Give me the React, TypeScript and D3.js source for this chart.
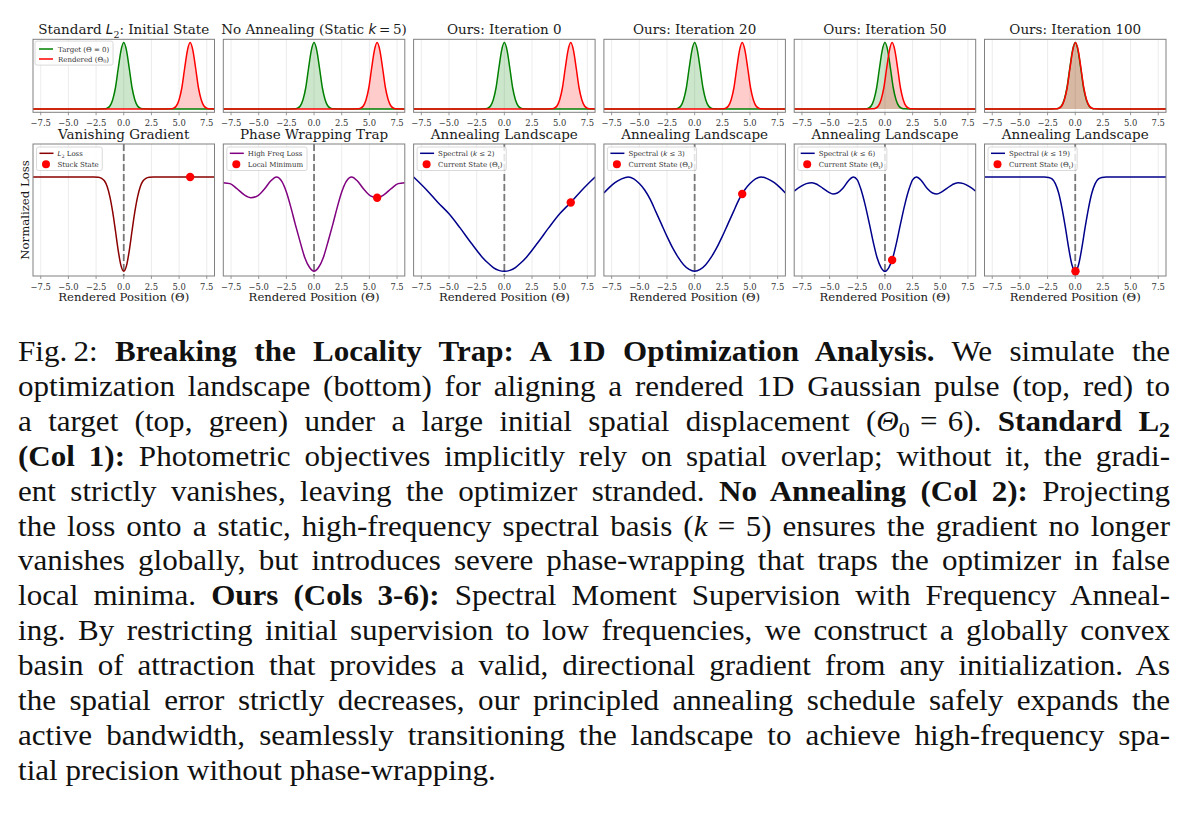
import React, { useEffect, useRef } from 'react'
import * as d3 from 'd3'

// ---- data ----
const X_DOMAIN = [-8.2, 8.2]
const X_TICKS = [-7.5, -5, -2.5, 0, 2.5, 5, 7.5]

const TOP_TITLES = ['l2', 'static', 'Ours: Iteration 0', 'Ours: Iteration 20', 'Ours: Iteration 50', 'Ours: Iteration 100']
const BOTTOM_TITLES = ['Vanishing Gradient', 'Phase Wrapping Trap', 'Annealing Landscape', 'Annealing Landscape', 'Annealing Landscape', 'Annealing Landscape']

const TARGET_CENTER = 0
const RENDERED_CENTERS = [6.0, 5.7, 6.0, 4.3, 0.65, 0.02]

// gaussian pulse profile (offset from centre -> height), one side
const PULSE_OFFSETS = [0, 0.25, 0.5, 0.75, 1.0, 1.25, 1.5, 1.8, 2.2]
const PULSE_HEIGHTS = [1, 0.88, 0.61, 0.32, 0.14, 0.045, 0.012, 0.002, 0]

// loss landscapes (right half, mirrored around 0)
const L2_X = [0, 0.25, 0.5, 0.75, 1, 1.25, 1.5, 1.75, 2, 2.3, 2.7, 8.2]
const L2_Y = [0, 0.06, 0.22, 0.43, 0.63, 0.79, 0.9, 0.96, 0.985, 0.997, 1, 1]
const HF_X = [0, 0.4, 0.85, 1.3, 1.7, 2.1, 2.5, 2.9, 3.4, 3.9, 4.5, 5.1, 5.7, 6.3, 7.0, 7.6, 8.2]
const HF_Y = [0, 0.04, 0.15, 0.33, 0.5, 0.68, 0.84, 0.95, 1.0, 0.96, 0.87, 0.8, 0.78, 0.81, 0.88, 0.93, 0.94]
const K2_X = [0, 0.5, 1, 1.5, 2, 3, 4, 5, 6, 7, 8.2]
const K2_Y = [0, 0.01, 0.04, 0.09, 0.15, 0.3, 0.46, 0.61, 0.73, 0.86, 1.0]
const K3_X = [0, 0.5, 1, 1.5, 2, 2.5, 3, 3.5, 4, 4.5, 5, 5.5, 6, 6.6, 7.2, 7.7, 8.2]
const K3_Y = [0, 0.02, 0.07, 0.15, 0.25, 0.37, 0.5, 0.63, 0.76, 0.86, 0.93, 0.98, 1.0, 0.98, 0.94, 0.89, 0.83]
const K6_X = [0, 0.35, 0.7, 1.0, 1.4, 1.8, 2.2, 2.5, 2.85, 3.3, 3.8, 4.3, 4.7, 5.1, 5.6, 6.1, 6.6, 7.1, 7.6, 8.2]
const K6_Y = [0, 0.04, 0.14, 0.28, 0.5, 0.71, 0.88, 0.97, 1.0, 0.96, 0.88, 0.83, 0.82, 0.84, 0.88, 0.92, 0.94, 0.93, 0.9, 0.85]
const K19_X = [0, 0.3, 0.6, 0.9, 1.2, 1.5, 1.8, 2.1, 2.4, 2.8, 8.2]
const K19_Y = [0, 0.07, 0.25, 0.47, 0.67, 0.83, 0.93, 0.98, 0.995, 1, 1]

const LOSS_X = [L2_X, HF_X, K2_X, K3_X, K6_X, K19_X]
const LOSS_Y = [L2_Y, HF_Y, K2_Y, K3_Y, K6_Y, K19_Y]
const STATE_VALUES = [1.0, 0.78, 0.73, 0.82, 0.12, 0.0]
const SPECTRAL_K = [0, 0, 2, 3, 6, 19]
const MARKER_LABELS = ['Stuck State', 'Local Minimum', 'Current State', 'Current State', 'Current State', 'Current State']

// ---- styles / layout ----
const LOSS_COLORS = ['#8b0000', '#800080', '#00008b', '#00008b', '#00008b', '#00008b']
const SERIF = '"DejaVu Serif", serif'
const MATH = '"DejaVu Sans", sans-serif'
const PANEL_X0 = 33
const PANEL_STEP = 190.3
const PANEL_W = 181.5
const TOP = { y0: 39.3, y1: 112.3 }
const BOT = { y0: 144, y1: 276 }
const LEGEND_FS = 7
const TICK_FS = 8.4
const CAPTION_X = 18
const CAPTION_W = 1152
const CAPTION_Y0 = 361
const CAPTION_STEP = 34.9
const CAPTION_SX = 1.09
const MSP = '\u2004' // math space, not stretched by justification

type Seg = [string, string]
const CAPTION: Seg[][] = [
  [['Fig.\u20092: ', 'n'], ['Breaking the Locality Trap: A 1D Optimization Analysis.', 'b'], [' We simulate the', 'n']],
  [['optimization landscape (bottom) for aligning a rendered 1D Gaussian pulse (top, red) to', 'n']],
  [['a target (top, green) under a large initial spatial displacement (', 'n'], ['Θ', 'i'], ['0', 's'], [`${MSP}=${MSP}6). `, 'n'], ['Standard L', 'b'], ['2', 'bs']],
  [['(Col 1):', 'b'], [' Photometric objectives implicitly rely on spatial overlap; without it, the gradi-', 'n']],
  [['ent strictly vanishes, leaving the optimizer stranded. ', 'n'], ['No Annealing (Col 2):', 'b'], [' Projecting', 'n']],
  [['the loss onto a static, high-frequency spectral basis (', 'n'], ['k', 'i'], [`${MSP}=${MSP}5) ensures the gradient no longer`, 'n']],
  [['vanishes globally, but introduces severe phase-wrapping that traps the optimizer in false', 'n']],
  [['local minima. ', 'n'], ['Ours (Cols 3-6):', 'b'], [' Spectral Moment Supervision with Frequency Anneal-', 'n']],
  [['ing. By restricting initial supervision to low frequencies, we construct a globally convex', 'n']],
  [['basin of attraction that provides a valid, directional gradient from any initialization. As', 'n']],
  [['the spatial error strictly decreases, our principled annealing schedule safely expands the', 'n']],
  [['active bandwidth, seamlessly transitioning the landscape to achieve high-frequency spa-', 'n']],
  [['tial precision without phase-wrapping.', 'n']],
]

const fmt = d3.format('.1f')

function mirror(xs: number[], ys: number[]): [number, number][] {
  const left = xs.slice(1).map((x, i) => [-x, ys[i + 1]] as [number, number]).reverse()
  return [...left, ...xs.map((x, i) => [x, ys[i]] as [number, number])]
}

function pulse(center: number): [number, number][] {
  const pts = mirror(PULSE_OFFSETS, PULSE_HEIGHTS).map(([dx, v]) => [center + dx, v] as [number, number])
  const out: [number, number][] = []
  if (pts[0][0] > X_DOMAIN[0]) out.push([X_DOMAIN[0], 0])
  out.push(...pts)
  if (pts[pts.length - 1][0] < X_DOMAIN[1]) out.push([X_DOMAIN[1], 0])
  return out
}

// rich text: n normal, i italic math, s subscript
function Rich({ segs, size }: { segs: Seg[], size: number }) {
  const parts: React.ReactNode[] = []
  let shifted = false
  segs.forEach(([t, s], i) => {
    const sub = s === 's' || s === 'bs'
    let dy: number | undefined
    if (sub && !shifted) { dy = size * 0.28; shifted = true }
    else if (!sub && shifted) { dy = -size * 0.28; shifted = false }
    parts.push(
      <tspan key={i} dy={dy}
        fontStyle={s === 'i' ? 'italic' : undefined}
        fontFamily={s === 'i' ? MATH : undefined}
        fontSize={sub ? size * 0.7 : undefined}>{t}</tspan>
    )
  })
  return <>{parts}</>
}

function Panel({ idx, row }: { idx: number, row: 'top' | 'bottom' }) {
  const left = PANEL_X0 + idx * PANEL_STEP
  const box = row === 'top' ? TOP : BOT
  const x = d3.scaleLinear().domain(X_DOMAIN).range([left, left + PANEL_W])
  const y = d3.scaleLinear().domain(row === 'top' ? [-0.05, 1.05] : [-0.05, 1.35]).range([box.y1, box.y0])
  const clipId = `clip-${row}-${idx}`
  const line = d3.line<[number, number]>().x(d => x(d[0])).y(d => y(d[1])).curve(d3.curveMonotoneX)
  const area = d3.area<[number, number]>().x(d => x(d[0])).y0(y(0)).y1(d => y(d[1])).curve(d3.curveMonotoneX)

  const tickY = box.y1
  const title = row === 'top' ? TOP_TITLES[idx] : BOTTOM_TITLES[idx]
  let titleNode: React.ReactNode = title
  if (title === 'l2') titleNode = <Rich size={13.5} segs={[['Standard ', 'n'], ['L', 'i'], ['2', 's'], [': Initial State', 'n']]} />
  if (title === 'static') titleNode = <Rich size={13.5} segs={[['No Annealing (Static ', 'n'], ['k', 'i'], ['\u2009=\u20095)', 'n']]} />

  return (
    <g>
      <defs>
        <clipPath id={clipId}><rect x={left} y={box.y0} width={PANEL_W} height={box.y1 - box.y0} /></clipPath>
      </defs>
      <rect x={left} y={box.y0} width={PANEL_W} height={box.y1 - box.y0} fill="#fff" />
      {X_TICKS.map(t => (
        <line key={t} x1={x(t)} x2={x(t)} y1={box.y0} y2={box.y1} stroke="#b0b0b0" strokeOpacity={0.3} strokeWidth={0.8} />
      ))}
      <g clipPath={`url(#${clipId})`}>
        {row === 'top' ? (
          <>
            <path d={area(pulse(TARGET_CENTER)) || ''} fill="green" fillOpacity={0.2} />
            <path d={area(pulse(RENDERED_CENTERS[idx])) || ''} fill="red" fillOpacity={0.2} />
            <path d={line(pulse(TARGET_CENTER)) || ''} fill="none" stroke="green" strokeWidth={1.5} />
            <path d={line(pulse(RENDERED_CENTERS[idx])) || ''} fill="none" stroke="red" strokeWidth={1.5} />
          </>
        ) : (
          <>
            <line x1={x(0)} x2={x(0)} y1={box.y0} y2={box.y1} stroke="#777" strokeWidth={1.8} strokeDasharray="7,3" />
            <path d={line(mirror(LOSS_X[idx], LOSS_Y[idx])) || ''} fill="none" stroke={LOSS_COLORS[idx]} strokeWidth={1.5} />
            <circle cx={x(RENDERED_CENTERS[idx])} cy={y(STATE_VALUES[idx])} r={4.2} fill="red" />
          </>
        )}
      </g>
      <rect x={left} y={box.y0} width={PANEL_W} height={box.y1 - box.y0} fill="none" stroke="#808080" strokeWidth={1} />
      {X_TICKS.map(t => (
        <g key={t}>
          <line x1={x(t)} x2={x(t)} y1={tickY} y2={tickY + 3} stroke="#808080" strokeWidth={0.8} />
          <text x={x(t)} y={tickY + 13.6} textAnchor="middle" fontSize={TICK_FS} fill="#333" fontFamily={SERIF}>{fmt(t)}</text>
        </g>
      ))}
      <text x={left + PANEL_W / 2} y={row === 'top' ? 34 : 138.5} textAnchor="middle" fontSize={13.5} fill="#1a1a1a" fontFamily={SERIF}>{titleNode}</text>
      {row === 'bottom' && (
        <text x={left + PANEL_W / 2} y={300.8} textAnchor="middle" fontSize={11.7} fill="#1a1a1a" fontFamily={SERIF}>Rendered Position (Θ)</text>
      )}
      {row === 'top' && idx === 0 && (
        <g className="legend" fontFamily={SERIF} fontSize={LEGEND_FS} fill="#333">
          <rect x={left + 2} y={box.y0 + 1.8} width={71} height={24} rx={2} fill="#fff" fillOpacity={0.8} stroke="#d0d0d0" strokeWidth={0.8} />
          <line x1={left + 6} x2={left + 20} y1={box.y0 + 9.7} y2={box.y0 + 9.7} stroke="green" strokeWidth={1.5} />
          <text x={left + 25} y={box.y0 + 12.2}>Target (Θ = 0)</text>
          <line x1={left + 6} x2={left + 20} y1={box.y0 + 19.7} y2={box.y0 + 19.7} stroke="red" strokeWidth={1.5} />
          <text x={left + 25} y={box.y0 + 22.2}><Rich size={LEGEND_FS} segs={[['Rendered (Θ', 'n'], ['0', 's'], [')', 'n']]} /></text>
        </g>
      )}
      {row === 'bottom' && (
        <g className="legend" fontFamily={SERIF} fontSize={LEGEND_FS} fill="#333">
          <rect x={left + 3.5} y={box.y0 + 3} width={80} height={23.5} rx={2} fill="#fff" fillOpacity={0.8} stroke="#d0d0d0" strokeWidth={0.8} />
          <line x1={left + 6.5} x2={left + 20.5} y1={box.y0 + 9.3} y2={box.y0 + 9.3} stroke={LOSS_COLORS[idx]} strokeWidth={1.5} />
          <text x={left + 24.5} y={box.y0 + 11.8}>
            {idx === 0 ? <Rich size={LEGEND_FS} segs={[['L', 'i'], ['2', 's'], [' Loss', 'n']]} />
              : idx === 1 ? 'High Freq Loss'
                : <Rich size={LEGEND_FS} segs={[['Spectral (', 'n'], ['k', 'i'], [` ≤ ${SPECTRAL_K[idx]})`, 'n']]} />}
          </text>
          <circle cx={left + 13} cy={box.y0 + 20.3} r={4} fill="red" />
          <text x={left + 24.5} y={box.y0 + 22.8}>
            {idx < 2 ? MARKER_LABELS[idx] : <Rich size={LEGEND_FS} segs={[[MARKER_LABELS[idx] + ' (Θ', 'n'], ['t', 's'], [')', 'n']]} />}
          </text>
        </g>
      )}
    </g>
  )
}

export default function App() {
  const rootRef = useRef<SVGSVGElement>(null)

  useEffect(() => {
    const layout = () => {
      const root = d3.select(rootRef.current)
      // justify caption lines with word spacing
      root.selectAll<SVGTextElement, unknown>('text.justify').each(function () {
        this.setAttribute('word-spacing', '0')
        const natural = this.getComputedTextLength()
        const spaces = (this.textContent || '').split(' ').length - 1
        if (spaces > 0) this.setAttribute('word-spacing', String((CAPTION_W / CAPTION_SX - natural) / spaces))
      })
      // size legend frames to their text
      root.selectAll<SVGGElement, unknown>('g.legend').each(function () {
        const rect = this.querySelector('rect') as SVGRectElement
        let right = 0
        this.querySelectorAll('text').forEach(t => {
          const b = (t as SVGTextElement).getBBox()
          right = Math.max(right, b.x + b.width)
        })
        rect.setAttribute('width', String(right - rect.x.baseVal.value + 3.5))
      })
    }
    layout()
    if (document.fonts) document.fonts.ready.then(layout)
  }, [])

  const idxs = d3.range(6)
  return (
    <svg ref={rootRef} width={1187} height={815} style={{ position: 'absolute', left: 0, top: 0, background: '#fff' }}>
      <rect width={1187} height={815} fill="#fff" />
      {idxs.map(i => <Panel key={`t${i}`} idx={i} row="top" />)}
      {idxs.map(i => <Panel key={`b${i}`} idx={i} row="bottom" />)}
      <text transform={`translate(29,${(BOT.y0 + BOT.y1) / 2}) rotate(-90)`} textAnchor="middle" fontSize={11.7} fill="#1a1a1a" fontFamily={SERIF}>Normalized Loss</text>
      <g fontFamily='"Liberation Serif", serif' fontSize={28.5} fill="#111">
        {CAPTION.map((segs, i) => (
          <text key={i} className={i < CAPTION.length - 1 ? 'justify' : ''}
            transform={`translate(${CAPTION_X},${CAPTION_Y0 + i * CAPTION_STEP}) scale(${CAPTION_SX},1)`}>
            {segs.map(([t, s], j) => {
              const sub = s === 's' || s === 'bs'
              const prevSub = j > 0 && (segs[j - 1][1] === 's' || segs[j - 1][1] === 'bs')
              return (
                <tspan key={j}
                  dy={sub ? 6 : prevSub ? -6 : undefined}
                  fontWeight={s === 'b' || s === 'bs' ? 'bold' : undefined}
                  fontStyle={s === 'i' ? 'italic' : undefined}
                  fontSize={sub ? 20 : undefined}>{t}</tspan>
              )
            })}
          </text>
        ))}
      </g>
    </svg>
  )
}
